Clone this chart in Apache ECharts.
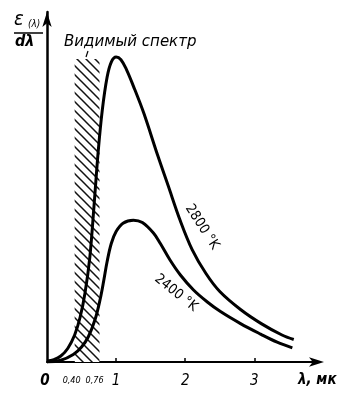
<!DOCTYPE html>
<html>
<head>
<meta charset="utf-8">
<script src="https://cdn.jsdelivr.net/npm/echarts@6/dist/echarts.min.js"></script>
<style>
  html, body { margin: 0; padding: 0; background: #fff; }
  #chart { width: 346px; height: 395px; }
</style>
</head>
<body>
<div id="chart"></div>
<script>
// длины волн, мк и значения (условные единицы)
var lambda2800 = [0, 0.1, 0.2, 0.3, 0.4, 0.48, 0.55, 0.62, 0.68, 0.74, 0.80, 0.87, 0.93, 1.0, 1.07, 1.15, 1.25, 1.4, 1.6, 1.75, 1.93, 2.1, 2.3, 2.5, 2.8, 3.1, 3.4, 3.57];
var value2800  = [0.3, 0.8, 2, 4.5, 9, 15, 23, 35, 52, 70, 84, 95, 100, 101.7, 100.8, 97.5, 92, 83, 69, 59, 47, 37.5, 29.5, 23.5, 17.5, 12.8, 9, 7.5];

var lambda2400 = [0, 0.2, 0.38, 0.5, 0.6, 0.7, 0.77, 0.82, 0.87, 0.93, 1.0, 1.1, 1.25, 1.38, 1.54, 1.64, 1.78, 1.93, 2.12, 2.32, 2.51, 2.8, 3.09, 3.33, 3.55];
var value2400  = [0, 0.6, 2.5, 5, 8.5, 14.5, 21, 27, 33.5, 39.5, 43.5, 46.3, 47.3, 46.5, 43, 39.5, 34, 29, 24, 20, 16.8, 12.8, 9.3, 6.6, 4.7];

var visibleBand = [0.40, 0.76];
var bandTop = 101;

var tickValues = [0, 0.40, 0.76, 1, 2, 3];
var tickLabels = ['0', '0,40', '0,76', '1', '2', '3'];

function pairs(xs, ys) {
    var out = [];
    for (var i = 0; i < xs.length; i++) {
        out.push([xs[i], ys[i]]);
    }
    return out;
}

// штриховка видимой области
var hs = 9;
var hatch = document.createElement('canvas');
hatch.width = hs;
hatch.height = hs;
var hctx = hatch.getContext('2d');
hctx.fillStyle = '#fff';
hctx.fillRect(0, 0, hs, hs);
hctx.strokeStyle = '#111';
hctx.lineWidth = 1.5;
hctx.beginPath();
hctx.moveTo(-1, -1); hctx.lineTo(hs + 1, hs + 1);
hctx.moveTo(-1, hs - 1); hctx.lineTo(1, hs + 1);
hctx.moveTo(hs - 1, -1); hctx.lineTo(hs + 1, 1);
hctx.stroke();

var font = '"DejaVu Sans Condensed", "DejaVu Sans", sans-serif';
var wide = '"DejaVu Sans", sans-serif';

var chart = echarts.init(document.getElementById('chart'), null, { renderer: 'canvas' });

var option = {
    backgroundColor: '#fff',
    animation: false,
    grid: { left: 47, right: 26, top: 12, bottom: 33 },
    xAxis: {
        type: 'value',
        min: 0,
        max: 3.95,
        axisLine: {
            show: true,
            lineStyle: { color: '#000', width: 2 },
            symbol: ['none', 'arrow'],
            symbolSize: [7, 15],
            symbolOffset: [0, 4]
        },
        axisTick: {
            show: true,
            inside: true,
            length: 4,
            lineStyle: { color: '#000', width: 1.5 },
            customValues: tickValues.slice(3)
        },
        axisLabel: {
            show: true,
            margin: 12,
            customValues: tickValues,
            formatter: function (v) {
                for (var i = 0; i < tickValues.length; i++) {
                    if (Math.abs(tickValues[i] - v) < 1e-6) {
                        if (i === 1) return '{s|' + tickLabels[i] + '}';
                        if (i === 2) return '{t|' + tickLabels[i] + '}';
                        if (i === 0) return '{z|' + tickLabels[i] + '}';
                        return '{b|' + tickLabels[i] + '}';
                    }
                }
                return '';
            },
            rich: {
                s: { fontFamily: font, fontStyle: 'italic', fontSize: 9, color: '#000', padding: [2, 6, 0, 0] },
                t: { fontFamily: font, fontStyle: 'italic', fontSize: 9, color: '#000', padding: [2, 10, 0, 0] },
                z: { fontFamily: font, fontStyle: 'italic', fontWeight: 'bold', fontSize: 15, color: '#000', padding: [0, 4, 0, 0] },
                b: { fontFamily: font, fontStyle: 'italic', fontSize: 15, color: '#000' }
            }
        },
        splitLine: { show: false }
    },
    yAxis: {
        type: 'value',
        min: 0,
        max: 116.7,
        axisLine: {
            show: true,
            lineStyle: { color: '#000', width: 2.5 },
            symbol: ['none', 'arrow'],
            symbolSize: [7, 15]
        },
        axisTick: { show: false },
        axisLabel: { show: false },
        splitLine: { show: false }
    },
    series: [
        {
            name: 'band',
            type: 'line',
            data: [],
            silent: true,
            markArea: {
                silent: true,
                itemStyle: { color: { image: hatch, repeat: 'repeat' } },
                data: [[{ coord: [visibleBand[0], 0] }, { coord: [visibleBand[1], bandTop] }]]
            },
            markLine: {
                silent: true,
                symbol: 'none',
                label: { show: false },
                lineStyle: { color: '#000', type: 'solid', width: 1.5 },
                data: [
                    [{ coord: [visibleBand[0], -2] }, { coord: [visibleBand[0], bandTop] }],
                    [{ coord: [visibleBand[1], -2] }, { coord: [visibleBand[1], bandTop] }]
                ]
            }
        },
        {
            name: '2800',
            type: 'line',
            data: pairs(lambda2800, value2800),
            smooth: 0.35,
            showSymbol: false,
            lineStyle: { color: '#000', width: 3 },
            z: 5
        },
        {
            name: '2400',
            type: 'line',
            data: pairs(lambda2400, value2400),
            smooth: 0.35,
            showSymbol: false,
            lineStyle: { color: '#000', width: 3 },
            z: 5
        }
    ],
    graphic: [
        // подпись оси ординат
        { type: 'text', left: 14, top: 10, style: { text: 'ε', font: 'italic 20px ' + font, fill: '#000' } },
        { type: 'text', left: 28, top: 19, style: { text: '(λ)', font: 'italic 10px ' + font, fill: '#000' } },
        { type: 'line', shape: { x1: 14, y1: 33, x2: 43, y2: 33 }, style: { stroke: '#000', lineWidth: 1.5 } },
        { type: 'text', left: 15, top: 34, style: { text: 'dλ', font: 'italic bold 16px ' + font, fill: '#000' } },
        // видимый спектр
        { type: 'text', left: 64, top: 35, style: { text: 'Видимый спектр', font: 'italic 15px ' + wide, fill: '#000' } },
        { type: 'line', shape: { x1: 88, y1: 51, x2: 86, y2: 57 }, style: { stroke: '#000', lineWidth: 1.2 } },
        // подписи кривых
        { type: 'text', x: 202, y: 227, rotation: -57 * Math.PI / 180,
          style: { text: '2800 °K', font: '14px ' + font, fill: '#000', align: 'center', verticalAlign: 'middle' } },
        { type: 'text', x: 176, y: 293, rotation: -39 * Math.PI / 180,
          style: { text: '2400 °K', font: '14px ' + font, fill: '#000', align: 'center', verticalAlign: 'middle' } },
        // подпись оси абсцисс
        { type: 'text', left: 298, top: 373, style: { text: 'λ, мк', font: 'italic bold 15px ' + font, fill: '#000' } }
    ]
};

chart.setOption(option);
</script>
</body>
</html>
